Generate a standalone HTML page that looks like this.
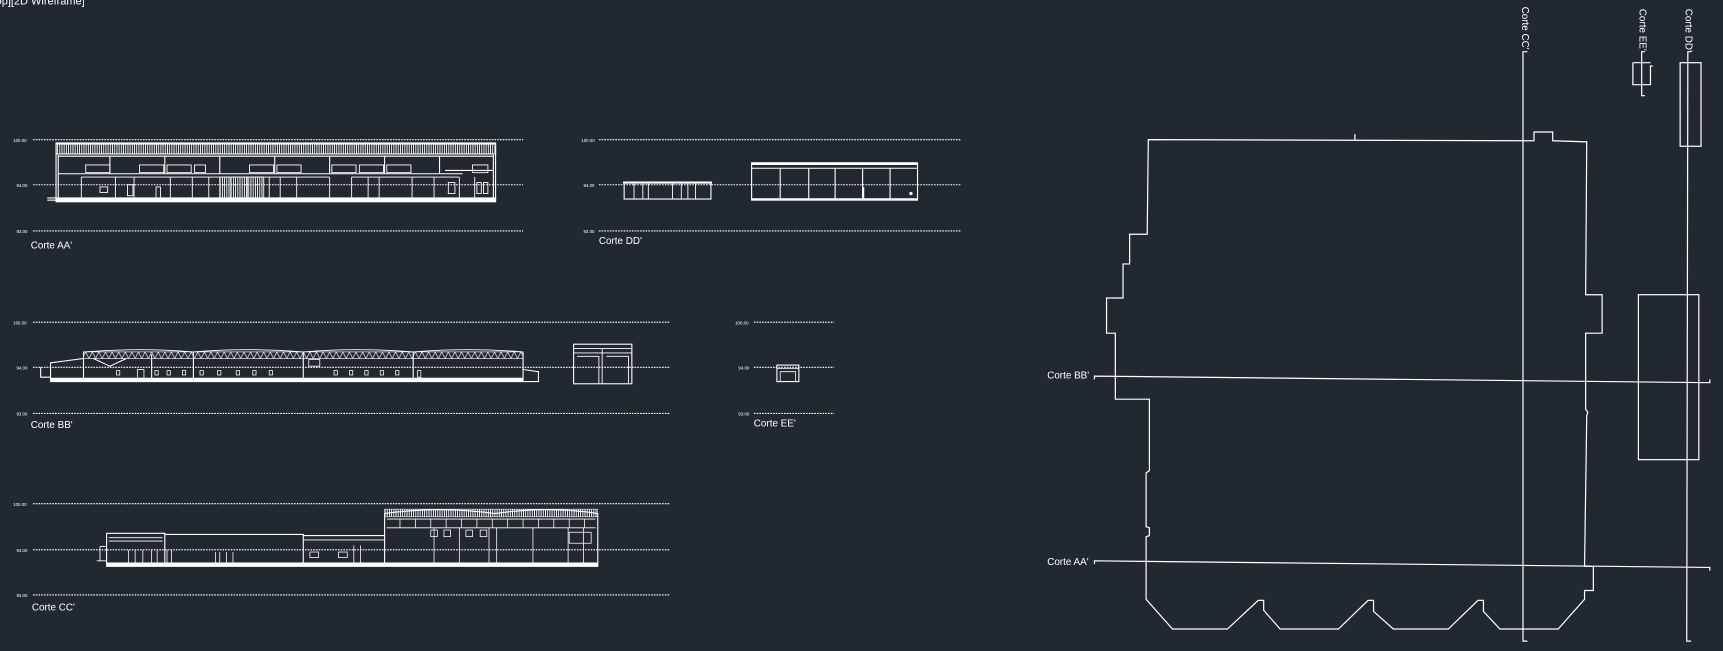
<!DOCTYPE html>
<html><head><meta charset="utf-8"><style>
html,body{margin:0;padding:0;background:#212830;overflow:hidden}
svg{display:block}
text{font-family:"Liberation Sans",sans-serif;fill:#fff}
</style></head><body>
<svg width="1723" height="651" viewBox="0 0 1568 592" preserveAspectRatio="none" xmlns="http://www.w3.org/2000/svg">
<defs>
<pattern id="hat" width="2" height="10" patternUnits="userSpaceOnUse"><rect width="0.8" height="10" fill="#fff"/></pattern>
<pattern id="tr" width="6" height="8" patternUnits="userSpaceOnUse"><path d="M0 0 L3 6 L6 0" stroke="#fff" stroke-width="0.6" fill="none"/></pattern>
</defs>
<rect width="1568" height="592" fill="#212830"/>
<text x="-4" y="4" font-size="10">op][2D Wireframe]</text>

<g stroke="#fff" stroke-width="1" stroke-dasharray="1.5 1" fill="none">
<!-- AA -->
<line x1="30" y1="127" x2="476" y2="127"/><line x1="30" y1="168" x2="476" y2="168"/><line x1="30" y1="210" x2="476" y2="210"/>
<!-- DD -->
<line x1="545" y1="127" x2="875" y2="127"/><line x1="545" y1="168" x2="875" y2="168"/><line x1="545" y1="210" x2="875" y2="210"/>
<!-- BB -->
<line x1="30" y1="293" x2="610" y2="293"/><line x1="30" y1="334" x2="610" y2="334"/><line x1="30" y1="376" x2="610" y2="376"/>
<!-- EE -->
<line x1="686" y1="293" x2="759" y2="293"/><line x1="686" y1="334" x2="759" y2="334"/><line x1="686" y1="376" x2="759" y2="376"/>
<!-- CC -->
<line x1="30" y1="458" x2="610" y2="458"/><line x1="30" y1="500" x2="610" y2="500"/><line x1="30" y1="541" x2="610" y2="541"/>
</g>
<g font-size="4">
<text x="12" y="129">100.00</text><text x="15" y="170">94.00</text><text x="15" y="212">93.00</text>
<text x="529" y="129">100.00</text><text x="531" y="170">94.00</text><text x="531" y="212">93.00</text>
<text x="12" y="295">100.00</text><text x="15" y="336">94.00</text><text x="15" y="378">93.00</text>
<text x="669" y="295">100.00</text><text x="672" y="336">94.00</text><text x="672" y="378">93.00</text>
<text x="12" y="460">100.00</text><text x="15" y="502">94.00</text><text x="15" y="543">93.00</text>
</g>
<g font-size="9">
<text x="28" y="226">Corte AA'</text>
<text x="545" y="222">Corte DD'</text>
<text x="28" y="389">Corte BB'</text>
<text x="686" y="388">Corte EE'</text>
<text x="29" y="555">Corte CC'</text>
</g>

<!-- Section AA -->
<g stroke="#fff" fill="none" stroke-width="1">
<rect x="51" y="131" width="400" height="9" fill="url(#hat)"/>
<rect x="51" y="130" width="400" height="52"/>
<rect x="51" y="180" width="400" height="3.5" fill="#fff"/>
<line x1="43" y1="180" x2="51" y2="180"/><line x1="43" y1="182" x2="51" y2="182"/>
<path d="M53 142 H449 M53 141 V180 M449 141 V180"/>
<path d="M100 142 V158 M150 142 V158 M200 142 V158 M250 142 V158 M300 142 V158 M350 142 V158 M400 142 V158"/>
<path d="M53 158 H421 M405 155 H449"/>
<g stroke-width="0.8">
<rect x="78" y="150" width="22" height="7"/><rect x="127" y="150" width="22" height="7"/><rect x="152" y="150" width="22" height="7"/>
<rect x="177" y="150" width="10" height="7"/><rect x="227" y="150" width="22" height="7"/><rect x="252" y="150" width="22" height="7"/>
<rect x="302" y="150" width="22" height="7"/><rect x="327" y="150" width="22" height="7"/><rect x="352" y="150" width="22" height="7"/>
<rect x="430" y="150" width="14" height="7"/>
<path d="M74 161 V180 M105 161 V180 M122 161 V180 M155 161 V180 M175 161 V180 M190 161 V180 M210 161 V180 M225 161 V180 M245 161 V180 M255 161 V180 M270 161 V180 M300 161 V180 M320 161 V180 M335 161 V180 M345 161 V180 M375 161 V180 M395 161 V180 M418 161 V180 M432 161 V180"/>
<path d="M74 161 H300 M320 161 H418"/>
<rect x="200" y="161" width="40" height="19" fill="url(#hat)"/>
<rect x="91" y="170" width="7" height="5"/><rect x="116" y="168" width="5" height="10"/><rect x="142" y="170" width="4" height="10"/>
<rect x="434" y="166" width="4" height="10"/><rect x="440" y="166" width="4" height="10"/><rect x="408" y="166" width="6" height="10"/>
</g>
</g>

<!-- Section DD -->
<g stroke="#fff" fill="none" stroke-width="1">
<rect x="568" y="166" width="79" height="15"/><line x1="567" y1="166" x2="648" y2="166" stroke-width="2"/>
<path d="M577 167 V181 M585 167 V181 M590 167 V181 M612 167 V181 M620 167 V181 M626 167 V181 M633 167 V181" stroke-width="0.8"/>
<rect x="684" y="148" width="151" height="34"/><line x1="684" y1="149" x2="835" y2="149" stroke-width="2"/>
<path d="M684 153 H835 M710 153 V182 M736 153 V182 M760 153 V182 M785 153 V182 M810 153 V182 M786 170 V182" stroke-width="1"/>
<line x1="684" y1="181" x2="835" y2="181" stroke-width="1.5"/>
<circle cx="829" cy="176" r="1" fill="#fff"/>
</g>

<!-- Section BB -->
<g stroke="#fff" fill="none" stroke-width="1">
<rect x="76" y="320" width="400" height="6" fill="url(#tr)" stroke-width="0.6"/>
<path d="M76 320 Q126 316 176 320 Q226 316 276 320 Q326 316 376 320 Q426 316 476 320" stroke-width="0.8"/>
<rect x="46" y="344" width="430" height="3" fill="#fff"/>
<path d="M46 344 V330 L76 326 V344 M37 334 V343 H46 M476 336 L490 338 V347 H476 M76 320 V344 M138 322 V344 M176 320 V344 M276 320 V344 M376 320 V344 M476 320 V344 M85 326 L100 333 L115 326" stroke-width="1"/>
<g stroke-width="0.7">
<rect x="106" y="337" width="3" height="4"/><rect x="125" y="336" width="6" height="8"/><rect x="141" y="337" width="3" height="4"/><rect x="152" y="337" width="3" height="4"/>
<rect x="166" y="337" width="3" height="4"/><rect x="182" y="337" width="3" height="4"/><rect x="198" y="337" width="3" height="4"/>
<rect x="215" y="337" width="3" height="4"/><rect x="230" y="337" width="3" height="4"/><rect x="245" y="337" width="3" height="4"/>
<rect x="304" y="337" width="3" height="4"/><rect x="318" y="337" width="3" height="4"/><rect x="332" y="337" width="3" height="4"/>
<rect x="346" y="337" width="3" height="4"/><rect x="360" y="337" width="3" height="4"/><rect x="380" y="337" width="3" height="6"/>
<rect x="281" y="327" width="10" height="6"/>
</g>
<rect x="522" y="313" width="53" height="36"/>
<path d="M522 317 H575 M522 321 H575 M548 317 V349 M525 324 H545 V349 M552 324 H572 V349" stroke-width="0.8"/>
<!-- EE -->
<rect x="707" y="332" width="20" height="15"/>
<path d="M707 335 H727 M710 338 H724 V347 M710 338 V347" stroke-width="0.7"/>
</g>

<!-- Section CC -->
<g stroke="#fff" fill="none" stroke-width="1">
<rect x="97" y="512" width="447" height="3" fill="#fff"/>
<path d="M97 512 V485 H150 V512 M150 486 H276 V512 M276 487 H350 V512 M350 512 V467 Q400 460 450 467 Q500 460 544 467 V512" />
<rect x="350" y="463" width="194" height="7" fill="url(#hat)" stroke-width="0.5"/>
<path d="M99 489 H148 M99 492 H148 M352 472 H542 M352 480 H542" stroke-width="0.8"/>
<path d="M91 497 H97 M91 497 V510 M88 510 H97 M276 491 H350" stroke-width="0.8"/>
<g stroke-width="0.7">
<path d="M364 472 V480 M378 472 V480 M392 472 V480 M406 472 V480 M420 472 V480 M434 472 V480 M448 472 V480 M462 472 V480 M476 472 V480 M490 472 V480 M504 472 V480 M518 472 V480 M532 472 V480"/>
<path d="M395 480 V512 M418 480 V512 M445 480 V512 M452 480 V512 M485 480 V512 M517 480 V512 M531 480 V512"/>
<rect x="392" y="482" width="6" height="6"/><rect x="404" y="482" width="6" height="6"/><rect x="424" y="482" width="6" height="6"/><rect x="437" y="482" width="6" height="6"/>
<rect x="518" y="484" width="20" height="10"/>
<rect x="282" y="502" width="8" height="5"/><rect x="308" y="502" width="8" height="5"/>
<path d="M117 500 V512 M123 500 V512 M130 500 V512 M138 500 V512 M143 500 V512 M152 500 V512 M156 500 V512 M196 502 V512 M200 502 V512 M206 502 V512 M212 502 V512 M322 496 V512 M328 496 V512"/>
</g>
</g>

<!-- Plan -->
<g stroke="#fff" fill="none" stroke-width="1.1">
<path d="M1045 127 L1396 128 V120 H1413 V128 L1444 129 L1443 268 H1458 V303 H1443 L1443 372 L1445 375 L1444 378 L1442 515 H1450 V537 H1442 V545 L1418 572 H1365 L1350 556 V546 H1345 L1318 572 H1268 L1250 556 V546 H1245 L1218 572 H1165 L1150 555 V546 H1145 L1117 572 H1067 L1043 545 V488 L1046 487 V480 L1043 479 V430 L1046 428 V363 H1015 V303 H1007 V271 H1022 V240 H1028 V213 H1044 Z"/>
<line x1="1233" y1="122" x2="1233" y2="128"/>
<!-- CC' -->
<path d="M1390 47 H1386 V583 H1390"/>
<!-- EE' -->
<path d="M1497 47 H1494 V87 H1497"/>
<path d="M1486 57 H1502 M1486 57 V77 H1502 V60 H1504"/>
<!-- DD' -->
<path d="M1539 47 H1536 L1535 583 H1539"/>
<rect x="1529" y="57" width="19" height="76"/>
<rect x="1491" y="268" width="55" height="150"/>
<!-- BB' AA' -->
<path d="M996 345 V342 L1556 348 V345"/>
<path d="M996 513 V510 L1556 516 V519"/>
</g>
<g font-size="9">
<text x="953" y="344">Corte BB'</text>
<text x="953" y="514">Corte AA'</text>
<text transform="translate(1385,6) rotate(90)">Corte CC'</text>
<text transform="translate(1492,8) rotate(90)">Corte EE'</text>
<text transform="translate(1534,8) rotate(90)">Corte DD'</text>
</g>
</svg>
</body></html>
